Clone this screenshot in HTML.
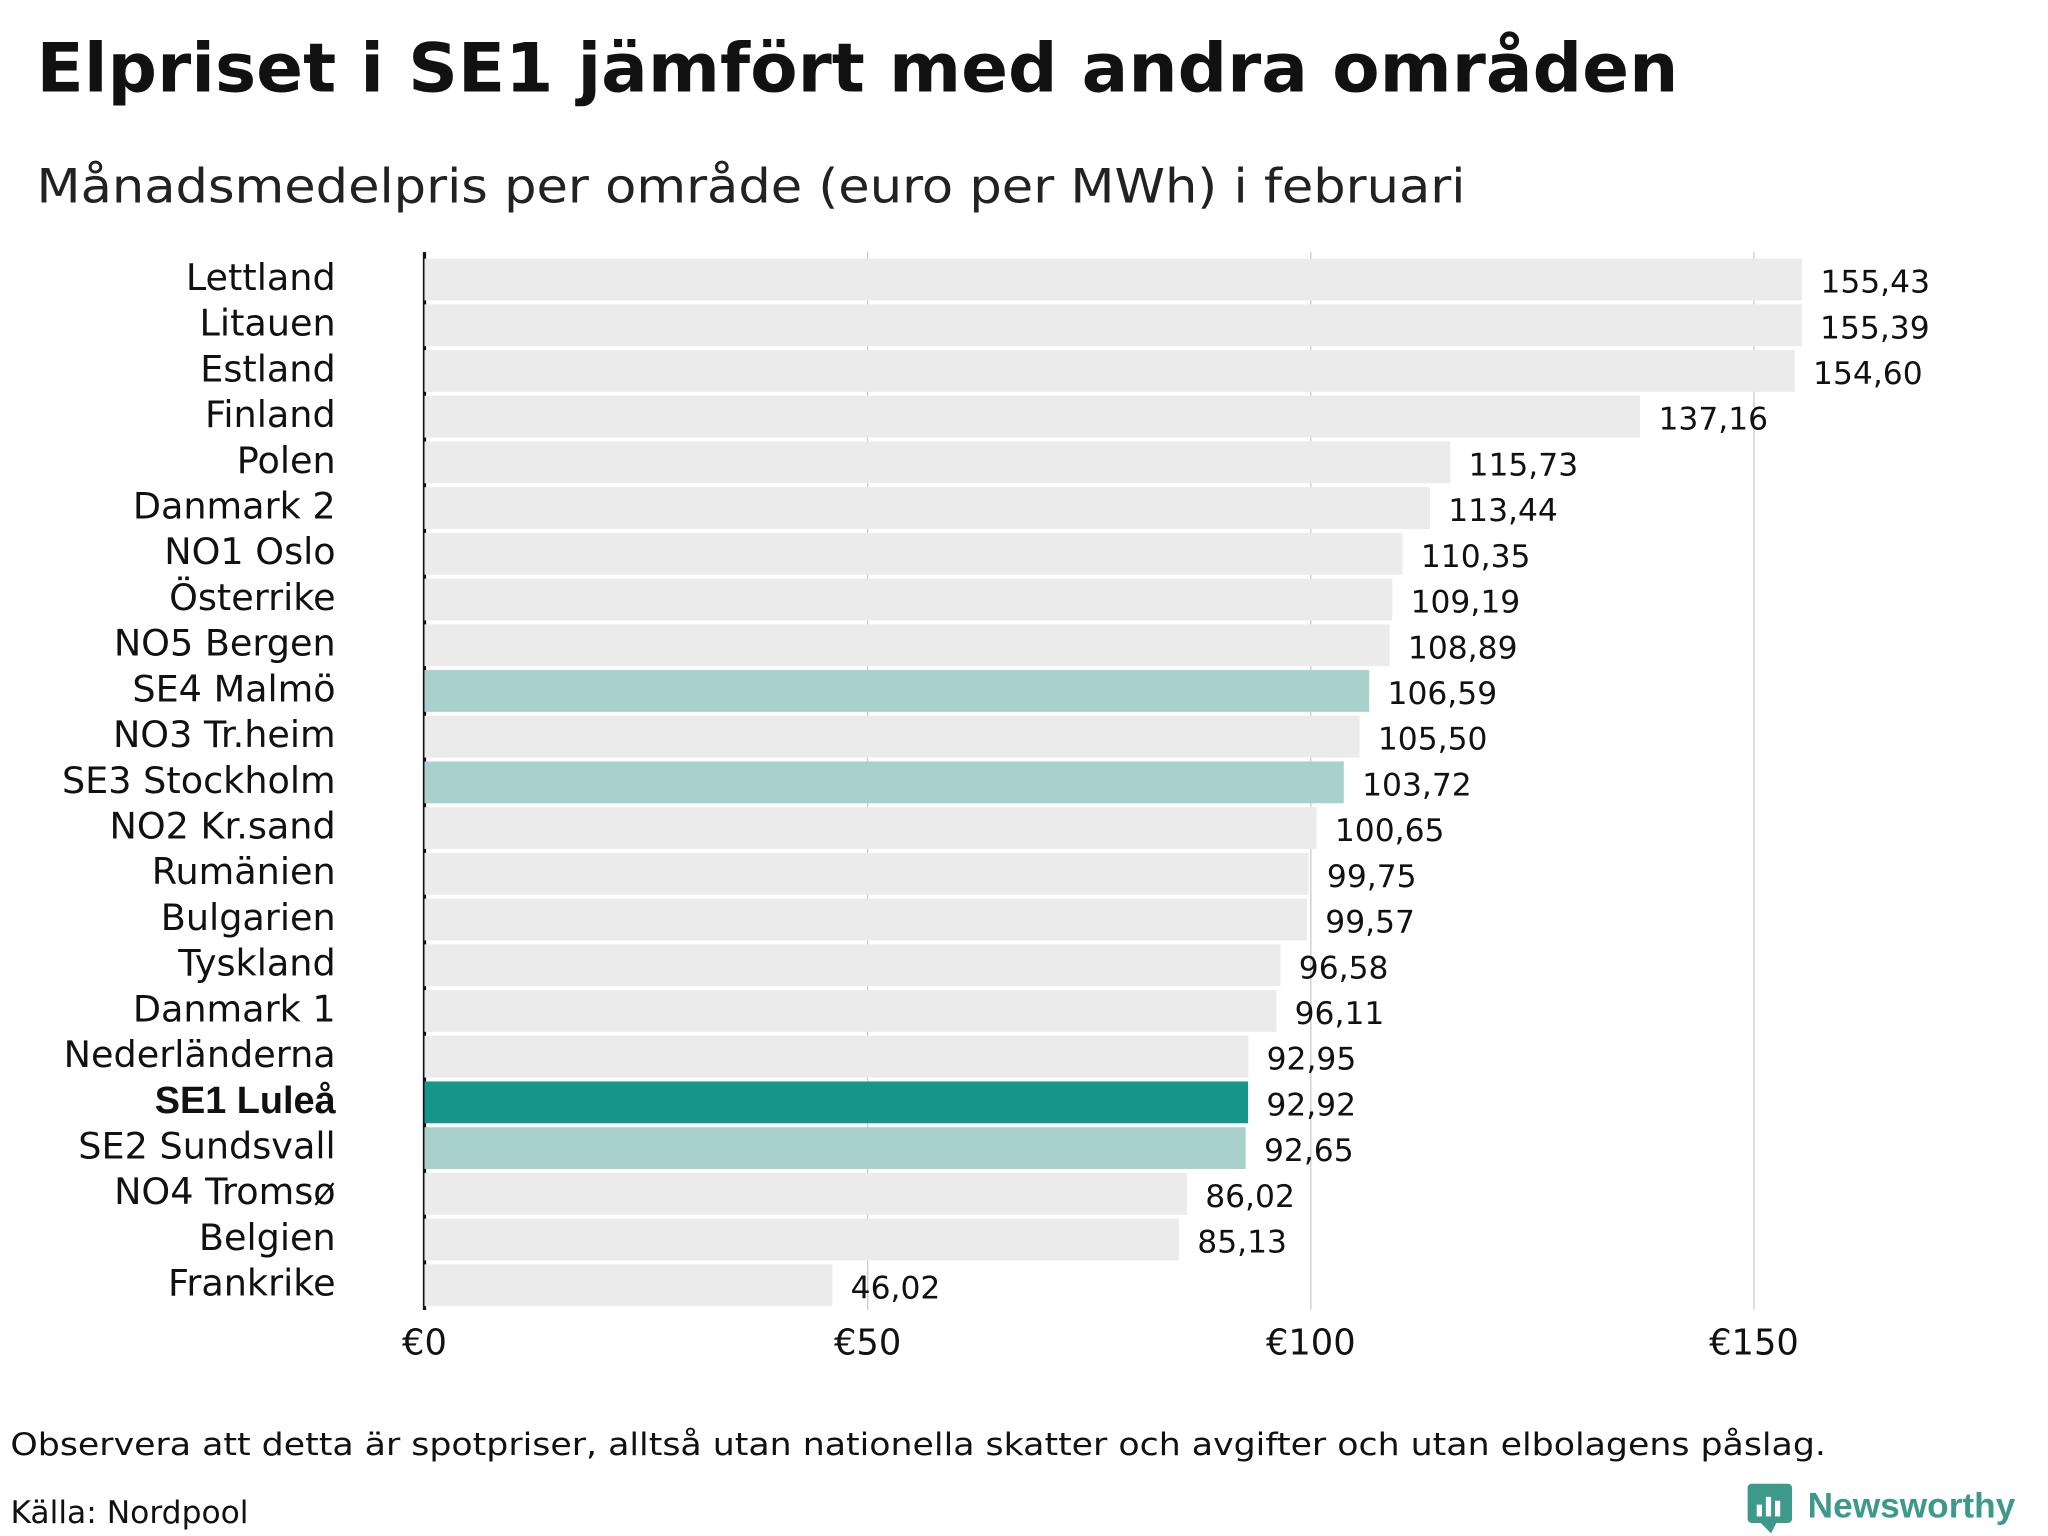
<!DOCTYPE html>
<html><head><meta charset="utf-8"><style>
html,body{margin:0;padding:0;background:#fff;}
svg{display:block;font-family:"DejaVu Sans","Liberation Sans",sans-serif;}
</style></head><body>
<svg id="chart" width="2048" height="1536" viewBox="0 0 1568 1176" xmlns="http://www.w3.org/2000/svg">
<text x="28" y="70" font-size="52" font-weight="bold" fill="#111" textLength="1257" lengthAdjust="spacingAndGlyphs">Elpriset i SE1 jämfört med andra områden</text>
<text x="28" y="155" font-size="36" fill="#222" textLength="1094" lengthAdjust="spacingAndGlyphs">Månadsmedelpris per område (euro per MWh) i februari</text>
<g id="grid"></g><g id="bars"></g><g id="labels"></g>
<text x="8" y="1114" font-size="24" fill="#111" textLength="1390" lengthAdjust="spacingAndGlyphs">Observera att detta är spotpriser, alltså utan nationella skatter och avgifter och utan elbolagens påslag.</text>
<text x="8" y="1166" font-size="24" fill="#111">Källa: Nordpool</text>
<g>
<rect x="1338" y="1136" width="34" height="30" rx="3" fill="#3d9a8a"/>
<polygon points="1348,1166 1356,1174 1360,1166" fill="#3d9a8a"/>
<rect x="1345" y="1152" width="4" height="9" fill="#fff"/><rect x="1352" y="1146" width="4" height="15" fill="#fff"/><rect x="1359" y="1149" width="4" height="12" fill="#fff"/>
<text x="1384" y="1162" font-size="27" font-weight="bold" fill="#3d9a8a" font-family="Liberation Sans, sans-serif">Newsworthy</text>
</g>
</svg>
<script>
const categories=["Lettland","Litauen","Estland","Finland","Polen","Danmark 2","NO1 Oslo","Österrike","NO5 Bergen","SE4 Malmö","NO3 Tr.heim","SE3 Stockholm","NO2 Kr.sand","Rumänien","Bulgarien","Tyskland","Danmark 1","Nederländerna","SE1 Luleå","SE2 Sundsvall","NO4 Tromsø","Belgien","Frankrike"];
const values=[155.43,155.39,154.60,137.16,115.73,113.44,110.35,109.19,108.89,106.59,105.50,103.72,100.65,99.75,99.57,96.58,96.11,92.95,92.92,92.65,86.02,85.13,46.02];
const tickValues=[0,50,100,150];
const tickLabels=["€0","€50","€100","€150"];
const NS="http://www.w3.org/2000/svg";
const x=v=>325+v*(339.3/50);
const y=i=>198+i*35;
const bh=32;
function mk(tag,attrs,parent){const e=document.createElementNS(NS,tag);for(const k in attrs)e.setAttribute(k,attrs[k]);parent.appendChild(e);return e;}
const grid=document.getElementById('grid'),bars=document.getElementById('bars'),labels=document.getElementById('labels');
tickValues.forEach((t,i)=>{
  if(t>0){const l=mk('line',{x1:x(t),x2:x(t),y1:193,y2:1003,stroke:'#ccc','stroke-width':1},grid);
  
  }
  const tx=mk('text',{x:x(t),y:1037,'font-size':27,'text-anchor':'middle',fill:'#111'},grid);
  tx.textContent=tickLabels[i];
  
  
});
categories.forEach((c,i)=>{
  let fill='#ebebeb';
  if(c.startsWith('SE'))fill='#a8d1cb';
  if(c==='SE1 Luleå')fill='#16968a';
  const r=mk('rect',{x:x(0),y:y(i),width:x(values[i])-x(0),height:bh,fill:fill},bars);
  
  
  const lb=mk('text',{x:257,y:y(i)+24,'font-size':28,'text-anchor':'end',fill:'#111'},labels);
  if(c==='SE1 Luleå'){lb.setAttribute('font-weight','bold');lb.setAttribute('font-family','Liberation Sans, sans-serif');lb.setAttribute('font-size','29');}
  lb.textContent=c;
  
  
  const vl=mk('text',{x:x(values[i])+14,y:y(i)+26,'font-size':24,fill:'#111'},labels);
  vl.textContent=values[i].toFixed(2).replace('.',',');
  
  
});
const ax=mk('line',{x1:x(0),x2:x(0),y1:193,y2:1003,stroke:'#111','stroke-width':2.5},grid);


</script>
</body></html>
